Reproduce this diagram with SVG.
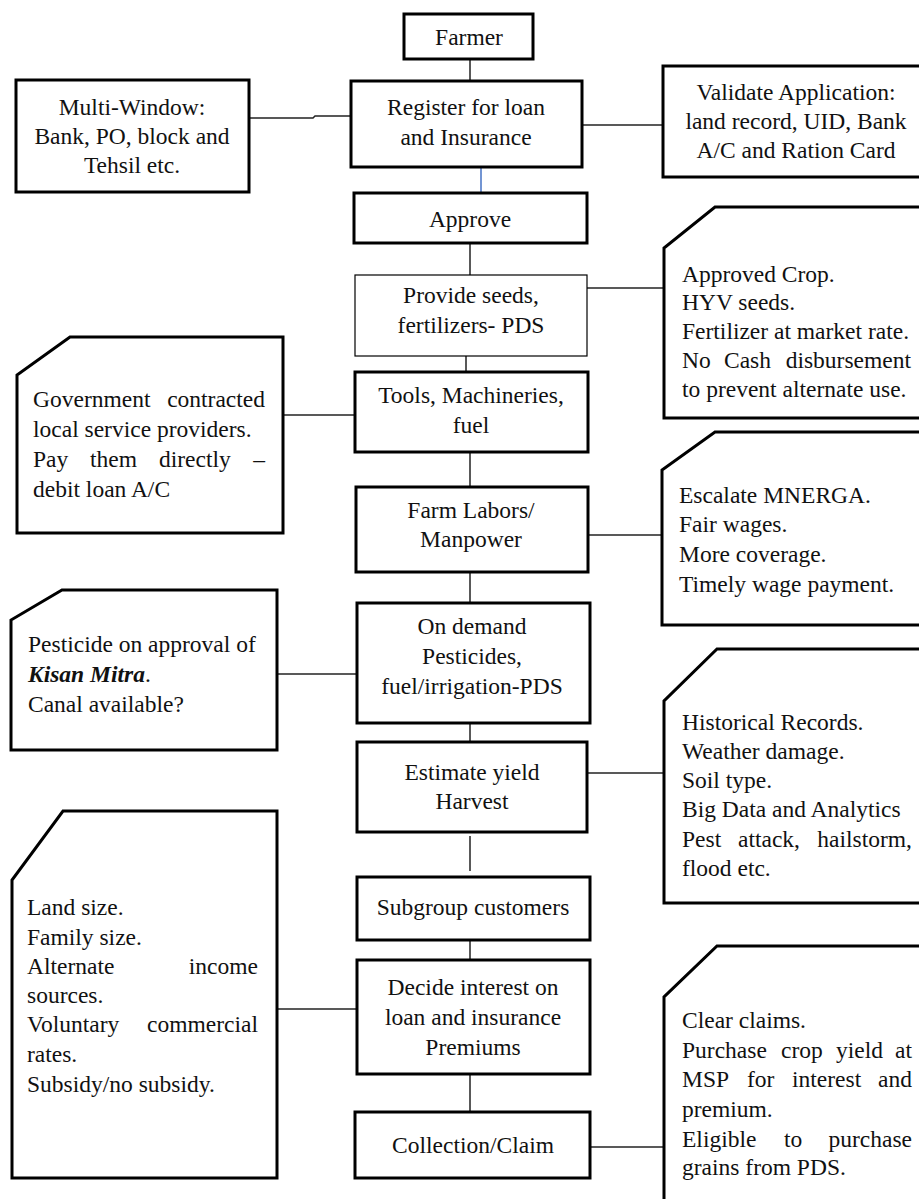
<svg xmlns="http://www.w3.org/2000/svg" width="919" height="1199" viewBox="0 0 919 1199">
<style>
  .box { fill: #ffffff; stroke: #000000; stroke-width: 3; }
  .thin { fill: #ffffff; stroke: #000000; stroke-width: 1.2; }
  .conn { stroke: #222222; stroke-width: 1.5; fill: none; }
  .blue { stroke: #4472C4; stroke-width: 1.5; fill: none; }
  text { font-family: "Liberation Serif", "Times New Roman", serif; font-size: 23.5px; fill: #111111; }
  .c { text-anchor: middle; }
  .e { text-anchor: end; }
</style>
<rect width="919" height="1199" fill="#ffffff"/>

<g id="connectors">
  <path class="conn" d="M249 118 H313 L315 116 H350"/>
  <line class="conn" x1="470" y1="59" x2="470" y2="81"/>
  <line class="conn" x1="582" y1="125" x2="663" y2="125"/>
  <line class="blue" x1="481" y1="167" x2="481" y2="193"/>
  <line class="conn" x1="470" y1="243" x2="470" y2="275"/>
  <line class="conn" x1="587" y1="288" x2="664" y2="288"/>
  <line class="conn" x1="466" y1="356" x2="466" y2="372"/>
  <line class="conn" x1="283" y1="415" x2="355" y2="415"/>
  <line class="conn" x1="470" y1="452" x2="470" y2="487"/>
  <line class="conn" x1="588" y1="535" x2="662" y2="535"/>
  <line class="conn" x1="470" y1="565" x2="470" y2="603"/>
  <line class="conn" x1="277" y1="674" x2="357" y2="674"/>
  <line class="conn" x1="470" y1="723" x2="470" y2="742"/>
  <line class="conn" x1="587" y1="773" x2="664" y2="773"/>
  <line class="conn" x1="470" y1="836" x2="470" y2="871"/>
  <line class="conn" x1="470" y1="940" x2="470" y2="960"/>
  <line class="conn" x1="277" y1="1009" x2="357" y2="1009"/>
  <line class="conn" x1="470" y1="1071" x2="470" y2="1112"/>
  <line class="conn" x1="590" y1="1147" x2="664" y2="1147"/>
</g>

<g id="farmer">
  <rect class="box" x="404" y="14" width="129" height="45"/>
  <text class="c" x="469" y="45">Farmer</text>
</g>

<g id="register">
  <rect class="box" x="351" y="81" width="231" height="86"/>
  <text class="c" x="466" y="115">Register for loan</text>
  <text class="c" x="466" y="145">and Insurance</text>
</g>

<g id="multiwindow">
  <rect class="box" x="16" y="80" width="233" height="112"/>
  <text class="c" x="132" y="115">Multi-Window:</text>
  <text class="c" x="132" y="144">Bank, PO, block and</text>
  <text class="c" x="132" y="173">Tehsil etc.</text>
</g>

<g id="validate">
  <rect class="box" x="663" y="66" width="270" height="111"/>
  <text class="c" x="796" y="100">Validate Application:</text>
  <text class="c" x="796" y="129">land record, UID, Bank</text>
  <text class="c" x="796" y="158">A/C and Ration Card</text>
</g>

<g id="approve">
  <rect class="box" x="354" y="193" width="233" height="50"/>
  <text class="c" x="470" y="227">Approve</text>
</g>

<g id="provide">
  <rect class="thin" x="355" y="275" width="232" height="81"/>
  <text class="c" x="471" y="303">Provide seeds,</text>
  <text class="c" x="471" y="333">fertilizers- PDS</text>
</g>

<g id="approved-crop">
  <path class="box" d="M664 418 V248 L715 207 H935 V418 Z"/>
  <text x="682" y="282">Approved Crop.</text>
  <text x="682" y="310">HYV seeds.</text>
  <text x="682" y="339">Fertilizer at market rate.</text>
  <text y="368"><tspan x="682">No</tspan><tspan x="724">Cash</tspan></text>
  <text class="e" x="911" y="368">disbursement</text>
  <text x="682" y="397">to prevent alternate use.</text>
</g>

<g id="tools">
  <rect class="box" x="355" y="372" width="233" height="80"/>
  <text class="c" x="471" y="403">Tools, Machineries,</text>
  <text class="c" x="471" y="433">fuel</text>
</g>

<g id="government">
  <path class="box" d="M17 533 V375 L70 337 H283 V533 Z"/>
  <text x="33" y="407">Government</text>
  <text class="e" x="265" y="407">contracted</text>
  <text x="33" y="437">local service providers.</text>
  <text y="467"><tspan x="33">Pay</tspan><tspan x="90">them</tspan><tspan x="159">directly</tspan></text>
  <text class="e" x="265" y="467">–</text>
  <text x="33" y="497">debit loan A/C</text>
</g>

<g id="farm-labors">
  <rect class="box" x="356" y="487" width="232" height="85"/>
  <text class="c" x="471" y="518">Farm Labors/</text>
  <text class="c" x="471" y="547">Manpower</text>
</g>

<g id="escalate">
  <path class="box" d="M662 625 V470 L715 432 H935 V625 Z"/>
  <text x="679" y="503">Escalate MNERGA.</text>
  <text x="679" y="532">Fair wages.</text>
  <text x="679" y="562">More coverage.</text>
  <text x="679" y="592">Timely wage payment.</text>
</g>

<g id="ondemand">
  <rect class="box" x="357" y="603" width="233" height="120"/>
  <text class="c" x="472" y="634">On demand</text>
  <text class="c" x="472" y="664">Pesticides,</text>
  <text class="c" x="472" y="694">fuel/irrigation-PDS</text>
</g>

<g id="pesticide">
  <path class="box" d="M11 750 V620 L62 590 H277 V750 Z"/>
  <text x="28" y="652">Pesticide on approval of</text>
  <text x="28" y="682"><tspan font-weight="bold" font-style="italic">Kisan Mitra</tspan>.</text>
  <text x="28" y="712">Canal available?</text>
</g>

<g id="estimate">
  <rect class="box" x="357" y="742" width="230" height="90"/>
  <text class="c" x="472" y="780">Estimate yield</text>
  <text class="c" x="472" y="809">Harvest</text>
</g>

<g id="historical">
  <path class="box" d="M664 903 V701 L717 649 H935 V903 Z"/>
  <text x="682" y="730">Historical Records.</text>
  <text x="682" y="759">Weather damage.</text>
  <text x="682" y="788">Soil type.</text>
  <text x="682" y="817">Big Data and Analytics</text>
  <text y="847"><tspan x="682">Pest</tspan><tspan x="738">attack,</tspan></text>
  <text class="e" x="912" y="847">hailstorm,</text>
  <text x="682" y="876">flood etc.</text>
</g>

<g id="subgroup">
  <rect class="box" x="357" y="877" width="233" height="63"/>
  <text class="c" x="473" y="915">Subgroup customers</text>
</g>

<g id="decide">
  <rect class="box" x="357" y="960" width="233" height="114"/>
  <text class="c" x="473" y="995">Decide interest on</text>
  <text class="c" x="473" y="1025">loan and insurance</text>
  <text class="c" x="473" y="1055">Premiums</text>
</g>

<g id="landsize">
  <path class="box" d="M12 1178 V880 L63 811 H277 V1178 Z"/>
  <text x="27" y="915">Land size.</text>
  <text x="27" y="945">Family size.</text>
  <text x="27" y="974">Alternate</text>
  <text class="e" x="258" y="974">income</text>
  <text x="27" y="1003">sources.</text>
  <text x="27" y="1032">Voluntary</text>
  <text class="e" x="258" y="1032">commercial</text>
  <text x="27" y="1062">rates.</text>
  <text x="27" y="1092">Subsidy/no subsidy.</text>
</g>

<g id="collection">
  <rect class="box" x="355" y="1112" width="235" height="66"/>
  <text class="c" x="473" y="1153">Collection/Claim</text>
</g>

<g id="clear-claims">
  <path class="box" d="M664 1215 V997 L717 946 H935 V1215 Z"/>
  <text x="682" y="1028">Clear claims.</text>
  <text y="1058"><tspan x="682">Purchase</tspan><tspan x="781">crop</tspan><tspan x="836">yield</tspan></text>
  <text class="e" x="912" y="1058">at</text>
  <text y="1087"><tspan x="682">MSP</tspan><tspan x="747">for</tspan><tspan x="792">interest</tspan></text>
  <text class="e" x="912" y="1087">and</text>
  <text x="682" y="1117">premium.</text>
  <text y="1147"><tspan x="682">Eligible</tspan><tspan x="784">to</tspan></text>
  <text class="e" x="912" y="1147">purchase</text>
  <text x="682" y="1175">grains from PDS.</text>
</g>
</svg>
